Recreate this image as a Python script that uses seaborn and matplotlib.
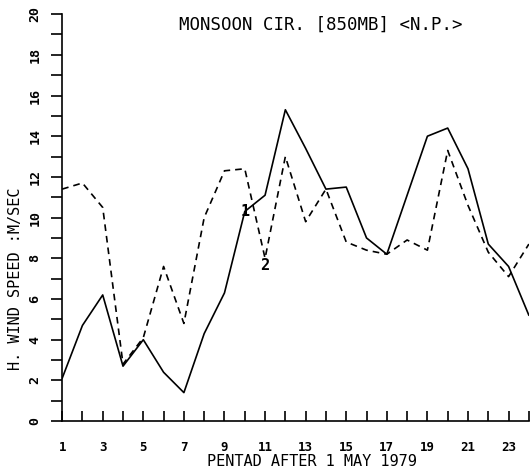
import numpy as np
import pandas as pd
import matplotlib
matplotlib.use("Agg")
import matplotlib.pyplot as plt
import seaborn as sns

# pentad index and the two wind speed curves (M/SEC)
pentads = list(range(1, 25))
speed_1 = [2.1, 4.7, 6.2, 2.7, 4.0, 2.4, 1.4, 4.3, 6.3, 10.3, 11.1, 15.3,
           13.4, 11.4, 11.5, 9.0, 8.2, 11.1, 14.0, 14.4, 12.4, 8.7, 7.6, 5.2]
speed_2 = [11.4, 11.7, 10.5, 2.8, 4.1, 7.6, 4.8, 10.0, 12.3, 12.4, 8.0, 13.0,
           9.8, 11.4, 8.8, 8.4, 8.2, 8.9, 8.4, 13.3, 10.6, 8.3, 7.1, 8.7]
xtick_labels = [1, 3, 5, 7, 9, 11, 13, 15, 17, 19, 21, 23]
ytick_labels = [0, 2, 4, 6, 8, 10, 12, 14, 16, 18, 20]

df = pd.DataFrame({"pentad": pentads, "s1": speed_1, "s2": speed_2})

sns.set_style("ticks")
plt.rcParams['font.family'] = ['DejaVu Sans Mono', 'DejaVu Sans']
plt.rcParams.update({"text.color": "black", "axes.labelcolor": "black",
                     "xtick.color": "black", "ytick.color": "black",
                     "axes.edgecolor": "black"})

fig = plt.figure(figsize=(5.31, 4.70), dpi=100)
ax = fig.add_axes([0.117, 0.104, 0.879, 0.866])

sns.lineplot(data=df, x="pentad", y="s1", ax=ax, color="black", lw=1.2)
sns.lineplot(data=df, x="pentad", y="s2", ax=ax, color="black", lw=1.2,
             linestyle=(0, (4, 3)))

# curve labels
ax.text(10, speed_1[9], "1", ha="center", va="center", fontsize=11,
        fontweight="bold")
ax.text(11, speed_2[10] - 0.35, "2", ha="center", va="center", fontsize=11,
        fontweight="bold")

ax.set_xlim(1, 24)
ax.set_ylim(0, 20)
ax.set_xticks(pentads, minor=False)
ax.set_xticklabels([str(p) if p in xtick_labels else "" for p in pentads],
                   fontsize=9, fontweight="bold")
ax.set_yticks(ytick_labels)
ax.set_yticklabels([str(v) for v in ytick_labels], rotation=90, va="center",
                   fontsize=9.5, fontweight="bold")
ax.set_yticks(range(1, 20, 2), minor=True)
ax.tick_params(axis="x", direction="in", length=7, width=1.2, pad=14)
ax.tick_params(axis="y", which="both", direction="out", length=8, width=1.2,
               pad=7)

sns.despine(ax=ax)
for s in ["left", "bottom"]:
    ax.spines[s].set_linewidth(1.2)

ax.set_xlabel("PENTAD AFTER 1 MAY 1979", fontsize=11, va="center")
ax.xaxis.set_label_coords(0.535, -0.098)
ax.set_ylabel("H. WIND SPEED :M/SEC", fontsize=11)
ax.yaxis.set_label_coords(-0.083, 0.35)
ax.text(0.25, 0.975, "MONSOON CIR. [850MB] <N.P.>", transform=ax.transAxes,
        fontsize=12.5, ha="left", va="center")

fig.savefig("out.png", dpi=100)
